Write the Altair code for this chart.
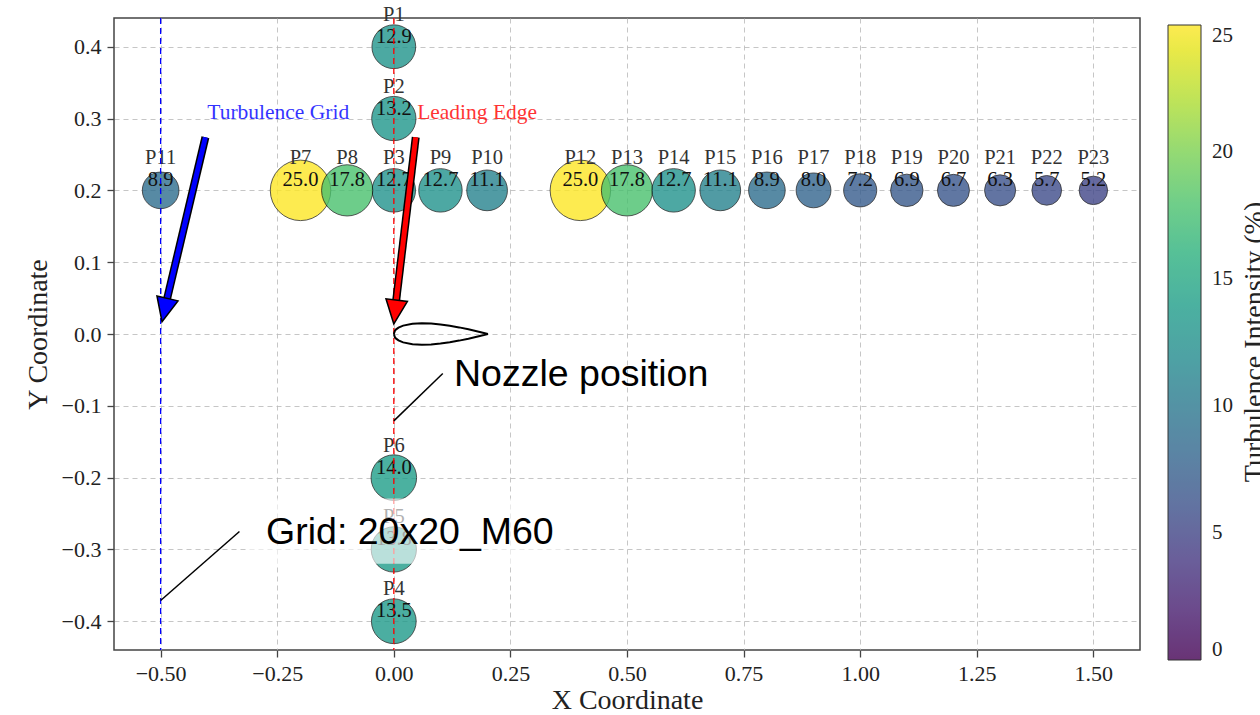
import altair as alt
import pandas as pd

# ---- measurement points ----
names = ["P1", "P2", "P3", "P4", "P5", "P6", "P7", "P8", "P9", "P10", "P11", "P12",
         "P13", "P14", "P15", "P16", "P17", "P18", "P19", "P20", "P21", "P22", "P23"]
xs = [0.0, 0.0, 0.0, 0.0, 0.0, 0.0, -0.2, -0.1, 0.1, 0.2, -0.5, 0.4,
      0.5, 0.6, 0.7, 0.8, 0.9, 1.0, 1.1, 1.2, 1.3, 1.4, 1.5]
ys = [0.4, 0.3, 0.2, -0.4, -0.3, -0.2, 0.2, 0.2, 0.2, 0.2, 0.2, 0.2,
      0.2, 0.2, 0.2, 0.2, 0.2, 0.2, 0.2, 0.2, 0.2, 0.2, 0.2]
ti = [12.9, 13.2, 12.7, 13.5, 13.8, 14.0, 25.0, 17.8, 12.7, 11.1, 8.9, 25.0,
      17.8, 12.7, 11.1, 8.9, 8.0, 7.2, 6.9, 6.7, 6.3, 5.7, 5.2]

# ---- reference lines ----
vline_x = [-0.5, 0.0]
vline_col = ["#0000ff", "#ff0000"]

# ---- airfoil outline (leading edge at x=0, chord 0.2) ----
foil_x = [0.0, 0.0025, 0.005, 0.01, 0.02, 0.04, 0.06, 0.08, 0.10, 0.12, 0.14, 0.16, 0.18, 0.20]
foil_t = [0.0, 0.0047, 0.0065, 0.0089, 0.0117, 0.0143, 0.0150, 0.0145, 0.0132, 0.0114,
          0.0092, 0.0066, 0.0036, 0.0003]

# ---- arrows: tail, shaft end, tip, head angle ----
arrow_col = ["#0000ff", "#ff0000"]
arrow_tail_x = [-0.404, 0.047]
arrow_tail_y = [0.274, 0.274]
arrow_shaft_x = [-0.488, 0.004]
arrow_shaft_y = [0.044, 0.041]
arrow_tip_x = [-0.497, 0.0]
arrow_tip_y = [0.017, 0.014]
arrow_angle = [13.1, 6.9]
arrow_label = ["Turbulence Grid", "Leading Edge"]
arrow_label_x = [-0.4, 0.05]
arrow_label_y = [0.3, 0.3]

# ---- sans annotations ----
note_text = ["Nozzle position", "Grid: 20x20_M60"]
note_x = [0.129, -0.274]
note_y = [-0.072, -0.292]
lead_x = [0.0, -0.5]
lead_y = [-0.121, -0.371]
lead_x2 = [0.105, -0.331]
lead_y2 = [-0.055, -0.275]
box_x = [-0.311]
box_x2 = [0.37]
box_y = [-0.229]
box_y2 = [-0.320]

colorbar_title = "Turbulence Intensity (%)"
colorbar_ticks = [0, 5, 10, 15, 20, 25]

SERIF = "Liberation Serif"
SANS = "Liberation Sans"

xscale = alt.Scale(domain=[-0.6, 1.6], nice=False, zero=False)
yscale = alt.Scale(domain=[-0.44, 0.44], nice=False, zero=False)
xaxis = alt.Axis(values=[-0.5, -0.25, 0, 0.25, 0.5, 0.75, 1.0, 1.25, 1.5], format=".2f",
                 title="X Coordinate")
yaxis = alt.Axis(values=[-0.4, -0.3, -0.2, -0.1, 0, 0.1, 0.2, 0.3, 0.4], format=".1f",
                 title="Y Coordinate")


def X(f):
    return alt.X(f, type="quantitative", scale=xscale, axis=xaxis)


def Y(f):
    return alt.Y(f, type="quantitative", scale=yscale, axis=yaxis)


pts = pd.DataFrame({"name": names, "x": xs, "y": ys, "ti": ti, "area": ti})

circles = alt.Chart(pts).mark_circle(opacity=0.8, stroke="black", strokeWidth=1,
                                     strokeOpacity=0.8).encode(
    x=X("x"), y=Y("y"),
    # domain differs from the colour domain so that the two legends are not merged
    size=alt.Size("area:Q", scale=alt.Scale(domain=[0, 50], range=[60, 7260], zero=False),
                  legend=None),
    color=alt.Color("ti:Q", scale=alt.Scale(scheme="viridis", domain=[0, 25]),
                    legend=alt.Legend(
                        type="gradient",
                        orient="none", legendX=1054, legendY=7, direction="vertical",
                        gradientLength=635, gradientThickness=33, title=None,
                        labelFontSize=21, labelFont=SERIF, labelOffset=11,
                        labelColor="#222", labelBaseline="middle",
                        values=colorbar_ticks,
                        gradientStrokeColor="black", gradientStrokeWidth=1,
                        gradientOpacity=0.8)),
)

plabels = alt.Chart(pts).mark_text(font=SERIF, fontSize=20.5, color="#333",
                                   baseline="alphabetic", dy=-26).encode(
    x=X("x"), y=Y("y"), text="name:N")

vlabels = alt.Chart(pts).mark_text(font=SERIF, fontSize=20.5, color="#111",
                                   baseline="alphabetic", dy=-4).encode(
    x=X("x"), y=Y("y"), text=alt.Text("ti:Q", format=".1f"))

layers = [circles, plabels, vlabels]

for vx, vc in zip(vline_x, vline_col):
    layers.append(alt.Chart(pd.DataFrame({"x": [vx]})).mark_rule(
        color=vc, strokeWidth=1.3, strokeDash=[6, 4]).encode(x=X("x")))

foil = pd.DataFrame({
    "x": foil_x + foil_x[::-1],
    "y": foil_t + [-t for t in foil_t[::-1]],
    "o": list(range(2 * len(foil_x))),
})
layers.append(alt.Chart(foil).mark_line(color="black", strokeWidth=2).encode(
    x=X("x"), y=Y("y"), order="o:Q"))

box = pd.DataFrame({"x": box_x, "x2": box_x2, "y": box_y, "y2": box_y2})
layers.append(alt.Chart(box).mark_rect(color="white", opacity=0.62).encode(
    x=X("x"), x2="x2", y=Y("y"), y2="y2"))

head_shape = "M0,0 L-0.45,-1 L0.45,-1 Z"
for i in range(len(arrow_col)):
    seg = pd.DataFrame({"x": [arrow_tail_x[i]], "y": [arrow_tail_y[i]],
                        "x2": [arrow_shaft_x[i]], "y2": [arrow_shaft_y[i]]})
    layers.append(alt.Chart(seg).mark_rule(color="black", strokeWidth=8).encode(
        x=X("x"), y=Y("y"), x2="x2", y2="y2"))
    layers.append(alt.Chart(seg).mark_rule(color=arrow_col[i], strokeWidth=5).encode(
        x=X("x"), y=Y("y"), x2="x2", y2="y2"))
    tip = pd.DataFrame({"x": [arrow_tip_x[i]], "y": [arrow_tip_y[i]]})
    layers.append(alt.Chart(tip).mark_point(
        shape=head_shape, size=2304, filled=True, fill=arrow_col[i], stroke="black",
        strokeWidth=1.5, opacity=1, angle=arrow_angle[i]).encode(x=X("x"), y=Y("y")))
    lab = pd.DataFrame({"x": [arrow_label_x[i]], "y": [arrow_label_y[i]],
                        "t": [arrow_label[i]]})
    layers.append(alt.Chart(lab).mark_text(
        font=SERIF, fontSize=21.5, color=arrow_col[i], opacity=0.8, align="left",
        baseline="alphabetic").encode(x=X("x"), y=Y("y"), text="t:N"))

leads = pd.DataFrame({"x": lead_x, "y": lead_y, "x2": lead_x2, "y2": lead_y2})
layers.append(alt.Chart(leads).mark_rule(color="black", strokeWidth=1.5).encode(
    x=X("x"), y=Y("y"), x2="x2", y2="y2"))

notes = pd.DataFrame({"x": note_x, "y": note_y, "t": note_text})
layers.append(alt.Chart(notes).mark_text(
    font=SANS, fontSize=37.5, color="black", align="left", baseline="alphabetic").encode(
    x=X("x"), y=Y("y"), text="t:N"))

# colorbar title (rotated, outside the plot area on the right)
cbt = pd.DataFrame({"t": [colorbar_title]})
layers.append(alt.Chart(cbt).mark_text(
    font=SERIF, fontSize=28, color="#222", angle=270, align="center",
    baseline="top").encode(x=alt.value(1127), y=alt.value(324), text="t:N"))

chart = alt.layer(*layers).properties(
    width=1026, height=632,
    autosize=alt.AutoSizeParams(type="none"),
    padding={"left": 114, "top": 18, "right": 120, "bottom": 65},
).configure(font=SERIF).configure_view(
    stroke="#444", strokeWidth=1.5
).configure_axis(
    grid=True, gridColor="#b8b8b8", gridDash=[5, 4], gridWidth=1, gridOpacity=0.8,
    domain=False, tickColor="#444", tickWidth=1.3, tickSize=7,
    labelFont=SERIF, labelFontSize=22, labelColor="#222", labelPadding=6,
    titleFont=SERIF, titleFontSize=28, titleFontWeight="normal", titleColor="#222",
).configure_axisY(titlePadding=9).configure_axisX(titlePadding=2).configure_legend(
    labelFont=SERIF
)

chart.save("out.html", embed_options={"renderer": "svg", "actions": False})
